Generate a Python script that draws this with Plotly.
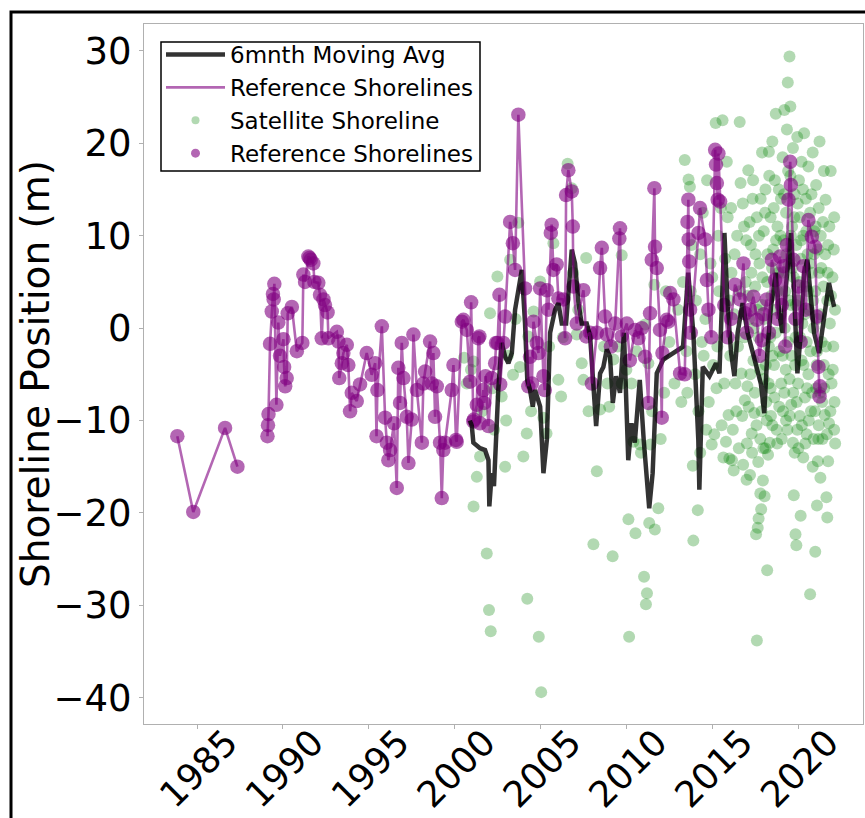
import plotly.graph_objects as go

# ---------------- data (decimal years, shoreline position in m) ----------------
ref_year = [
    1983.85, 1984.78, 1986.63, 1987.35, 1988.20,
    1989.10, 1989.13, 1989.16, 1989.25, 1989.35, 1989.42, 1989.46, 1989.50, 1989.62, 1989.73,
    1989.83, 1990.03, 1990.07, 1990.13, 1990.22, 1990.28, 1990.52, 1990.81, 1991.13, 1991.19,
    1991.29, 1991.48, 1991.55, 1991.62, 1991.77, 1991.83, 1992.06, 1992.16, 1992.26, 1992.36,
    1992.45, 1992.60, 1992.65, 1993.14, 1993.23, 1993.28, 1993.43, 1993.52, 1993.72, 1993.81,
    1993.91, 1994.01, 1994.30, 1994.49, 1994.88, 1995.17, 1995.37, 1995.45, 1995.50, 1995.76,
    1995.95, 1996.05, 1996.14, 1996.24, 1996.47, 1996.63, 1996.72, 1996.82, 1996.92, 1997.02,
    1997.21, 1997.31, 1997.50, 1997.60, 1997.80, 1998.09, 1998.18, 1998.28, 1998.57, 1998.67,
    1998.76, 1998.86, 1998.96, 1999.15, 1999.25, 1999.34, 1999.44, 1999.83, 1999.93, 2000.08,
    2000.12, 2000.42, 2000.51, 2000.71, 2000.90, 2000.96, 2001.09, 2001.12, 2001.29, 2001.38,
    2001.44, 2001.48, 2001.67, 2001.72, 2001.80, 2001.97, 2002.16, 2002.36, 2002.41, 2002.50,
    2002.61, 2002.65, 2002.84, 2002.94, 2003.23, 2003.39, 2003.52, 2003.71, 2004.10, 2004.29,
    2004.39, 2004.50, 2004.59, 2004.78, 2004.88, 2004.98, 2005.17, 2005.25, 2005.37, 2005.46,
    2005.60, 2005.65, 2005.75, 2005.94, 2006.04, 2006.33, 2006.43, 2006.49, 2006.62, 2006.82,
    2006.88, 2006.92, 2007.11, 2007.50, 2007.66, 2007.89, 2007.99, 2008.28, 2008.47, 2008.57,
    2008.76, 2008.86, 2009.10, 2009.35, 2009.59, 2009.63, 2009.73, 2010.03, 2010.20, 2010.51,
    2010.70, 2010.90, 2011.09, 2011.28, 2011.38, 2011.48, 2011.63, 2011.67, 2011.77, 2011.96,
    2012.06, 2012.10, 2012.35, 2012.44, 2012.55, 2012.74, 2013.13, 2013.40, 2013.56, 2013.61,
    2013.63, 2013.66, 2013.71, 2013.75, 2014.20, 2014.29, 2014.59, 2014.69, 2014.78, 2014.95,
    2015.17, 2015.22, 2015.27, 2015.32, 2015.36, 2015.46, 2015.70, 2015.90, 2016.10, 2016.33,
    2016.62, 2016.82, 2016.92, 2017.01, 2017.20, 2017.40, 2017.60, 2017.75, 2017.89, 2018.00,
    2018.18, 2018.30, 2018.47, 2018.66, 2018.80, 2018.95, 2019.05, 2019.15, 2019.25, 2019.35,
    2019.44, 2019.54, 2019.58, 2019.73, 2019.85, 2020.02, 2020.15, 2020.31, 2020.45, 2020.60,
    2020.80, 2020.99, 2021.09, 2021.19, 2021.25, 2021.28,
]
ref_pos = [
    -11.7, -19.9, -10.8, -15.0, None,
    -11.7, -10.5, -9.3, -1.7, 1.8, 3.7, 3.1, 4.8, -8.3, 0.6,
    -3.0, -1.2, -4.2, -6.3, -5.4, 1.6, 2.3, -2.5, -1.6, 5.8,
    5.0, 7.75, 7.6, 7.4, 7.0, 5.0, 4.9, 3.6, -1.1, 3.1,
    2.5, 1.7, -1.1, -0.4, -1.45, -5.4, -3.8, -2.7, -1.8, -4.0,
    -9.0, -7.0, -7.9, -6.1, -2.7, -5.05, -3.8, -11.7, -6.7, 0.2,
    -9.7, -12.4, -14.3, -13.2, -10.3, -17.3, -4.3, -8.1, -1.6, -5.4,
    -9.6, -14.6, -9.9, -0.7, -6.7, -12.4, -6.0, -4.7, -1.45, -6.0,
    -2.7, -9.6, -6.3, -12.4, -18.4, -13.2, -12.4, -6.7, -4.0, -12.1,
    -12.3, 0.7, 0.9, -0.2, -5.8, 2.8, -10.1, -9.9, -8.3, -1.1,
    -0.9, -10.3, -6.7, -8.1, -5.2, -10.6, -5.4, -3.8, -1.6, -1.6,
    3.6, -6.1, -1.6, 1.25, 11.5, 9.2, 6.3, 23.1, 4.3, -6.3,
    -3.1, -6.0, 0.7, -1.6, -2.7, 4.3, -5.2, -6.7, 4.1, 2.0,
    10.3, 11.2, 6.3, 6.9, 3.2, 3.1, -1.1, 14.4, 17.1, 14.8,
    11.0, 4.5, 0.5, 4.1, -0.9, -0.5, -6.0, -0.5, 6.5, 8.7,
    1.25, -0.7, -2.0, 0.5, 9.7, 10.8, -0.9, 0.5, -3.5, -0.2,
    -1.1, 0.0, -3.1, -8.1, 1.6, 7.4, 15.15, 8.8, 6.5, -0.2,
    -9.7, -2.7, 0.9, 0.7, 3.8, 3.1, -4.9, -5.0, 11.5, 13.9,
    9.6, 7.2, 2.0, -0.5, 10.3, 13.0, 9.6, 5.2, 2.0, -1.0,
    19.3, 17.7, 15.7, 13.9, 18.9, 13.7, 2.5, -1.0, 1.0, 4.7,
    3.1, 7.0, 1.6, -0.5, 2.0, 3.4, 0.9, -3.0, -1.3, 1.5,
    3.1, -0.5, 7.4, 5.2, 1.0, 7.75, 2.5, 6.7, -2.0, 9.0,
    13.9, 18.0, 15.5, 7.4, 1.0, 4.5, -1.5, 6.7, 2.0, 11.7,
    9.9, 8.8, 1.25, -4.2, -7.4, -6.3,
]

avg_year = [
    2000.90, 2001.00, 2001.09, 2001.48, 2001.77, 2001.97, 2002.02, 2002.16, 2002.29, 2002.54,
    2002.74, 2002.94, 2003.13, 2003.33, 2003.52, 2003.71, 2003.91, 2004.10, 2004.23, 2004.39,
    2004.55, 2004.68, 2004.98, 2005.17, 2005.37, 2005.56, 2005.85, 2006.04, 2006.24, 2006.49,
    2006.62, 2006.82, 2007.01, 2007.21, 2007.40, 2007.69, 2007.89, 2008.08, 2008.24, 2008.47,
    2008.66, 2008.86, 2009.05, 2009.21, 2009.40, 2009.63, 2009.86, 2010.11, 2010.30, 2010.49,
    2010.78, 2011.01, 2011.33, 2011.53, 2011.77, 2012.15, 2013.30, 2013.60, 2013.90, 2014.19,
    2014.25, 2014.45, 2014.84, 2015.22, 2015.42, 2015.71, 2015.90, 2016.10, 2016.29, 2016.48,
    2016.77, 2017.06, 2017.54, 2017.83, 2018.03, 2018.22, 2018.42, 2018.71, 2018.90, 2019.10,
    2019.29, 2019.58, 2019.77, 2019.96, 2020.16, 2020.35, 2020.54, 2020.73, 2020.93, 2021.22,
    2021.51, 2021.80, 2022.00, 2022.10,
]
avg_pos = [
    -10.0, -10.6, -12.4, -13.0, -13.2, -14.3, -19.3, -15.7, -17.1, -6.7,
    -1.6, -3.1, -3.8, -2.7, 2.0, 4.3, 6.3, 0.5, -5.6, -6.7,
    -8.5, -6.7, -8.5, -15.7, -12.1, -0.5, 2.0, 2.7, 0.5, 0.5,
    4.1, 8.5, 7.0, 2.7, 0.5, 0.5, -0.9, -6.0, -10.6, -4.9,
    -4.2, -2.3, -3.1, -8.1, -5.2, -7.0, -0.5, -14.3, -10.3, -12.4,
    -5.6, -12.1, -19.5, -15.7, -4.9, -3.4, -2.0, 6.0, -0.5, -12.1,
    -17.5, -4.2, -5.2, -3.8, -4.9, 10.3, 2.3, -2.7, -5.2, -0.5,
    2.7, -0.5, -4.2, -6.0, -9.2, -2.3, 2.3, 6.0, 1.6, -0.5,
    4.5, 10.3, 3.8, -4.9, -0.5, 6.0, 7.4, 3.1, -0.5, -2.7,
    1.25, 4.9, 3.1, 2.3,
]

sat_year = [
    2000.55, 2000.70, 2000.95, 2001.10, 2001.10, 2001.29, 2001.48, 2001.87, 2002.00, 2002.10,
    2002.06, 2002.20, 2002.49, 2002.74, 2002.94, 2003.10, 2003.23, 2003.40, 2003.71, 2003.80,
    2004.00, 2004.20, 2004.23, 2004.29, 2004.60, 2004.90, 2004.98, 2005.04, 2005.17, 2005.35,
    2005.75, 2006.04, 2006.20, 2006.58, 2006.82, 2007.11, 2007.40, 2007.50, 2007.66, 2008.08,
    2008.28, 2008.47, 2008.70, 2009.00, 2009.20, 2009.25, 2009.73, 2009.73, 2010.00, 2010.12,
    2010.16, 2010.41, 2010.53, 2010.80, 2010.85, 2011.03, 2011.14, 2011.20, 2011.09, 2011.28,
    2011.33, 2011.40, 2011.63, 2011.66, 2011.86, 2012.20, 2012.50, 2012.80, 2013.00, 2013.20,
    2013.40, 2013.50, 2013.62, 2013.70, 2013.75, 2013.87, 2013.90, 2014.00, 2014.16, 2014.30,
    2014.30, 2014.45, 2014.50, 2014.60, 2014.70, 2014.80, 2014.97, 2015.00, 2015.12, 2015.20,
    2015.25, 2015.35, 2015.50, 2015.55, 2015.60, 2015.65, 2015.75, 2015.80, 2015.85, 2015.95,
    2016.00, 2016.00, 2016.10, 2016.15, 2016.25, 2016.30, 2016.40, 2016.50, 2016.60, 2016.65,
    2016.70, 2016.80, 2016.85, 2016.90, 2016.95, 2017.00, 2017.05, 2017.10, 2017.15, 2017.20,
    2017.25, 2017.30, 2017.35, 2017.40, 2017.45, 2017.50, 2017.55, 2017.60, 2017.60, 2017.65,
    2017.70, 2017.70, 2017.75, 2017.80, 2017.80, 2017.85, 2017.90, 2017.90, 2017.95, 2018.00,
    2018.00, 2018.05, 2018.10, 2018.10, 2018.15, 2018.20, 2018.20, 2018.25, 2018.30, 2018.30,
    2018.35, 2018.40, 2018.40, 2018.45, 2018.50, 2018.50, 2018.55, 2018.60, 2018.65, 2018.70,
    2018.70, 2018.75, 2018.80, 2018.85, 2018.90, 2019.00, 2019.00, 2019.05, 2019.10, 2019.10,
    2019.15, 2019.20, 2019.20, 2019.25, 2019.30, 2019.30, 2019.35, 2019.40, 2019.40, 2019.45,
    2019.50, 2019.50, 2019.55, 2019.55, 2019.60, 2019.60, 2019.65, 2019.70, 2019.70, 2019.75,
    2019.75, 2019.80, 2019.80, 2019.85, 2019.85, 2019.90, 2019.90, 2019.95, 2019.95, 2020.00,
    2020.00, 2020.05, 2020.10, 2020.10, 2020.15, 2020.15, 2020.20, 2020.20, 2020.25, 2020.30,
    2020.30, 2020.35, 2020.40, 2020.40, 2020.45, 2020.50, 2020.50, 2020.55, 2020.60, 2020.60,
    2020.65, 2020.70, 2020.70, 2020.75, 2020.80, 2020.85, 2020.85, 2020.90, 2020.90, 2020.95,
    2021.00, 2021.00, 2021.05, 2021.05, 2021.10, 2021.10, 2021.15, 2021.15, 2021.20, 2021.20,
    2021.25, 2021.30, 2021.30, 2021.35, 2021.40, 2021.45, 2021.50, 2021.50, 2021.55, 2021.60,
    2021.65, 2021.70, 2021.70, 2021.75, 2021.75, 2021.80, 2021.85, 2021.90, 2021.95, 2022.00,
    2022.05, 2022.10, 2022.10, 2022.15,
]
sat_pos = [
    -3.2, -6.0, -4.5, -19.3, -3.6, -16.1, -13.9, -24.4, -30.5, -32.8,
    1.6, -6.5, 5.6, -7.4, -15.0, -3.0, 7.4, -5.05, 11.4, -4.2,
    -13.9, -11.4, -29.3, -0.9, 1.8, -33.4, 5.05, -39.4, -9.7, -11.4,
    9.2, -5.6, -7.4, 17.8, 15.15, -0.7, -3.8, -5.6, 7.6, -23.4,
    -15.5, -8.8, -2.0, -8.5, -24.7, -3.4, 7.9, -6.0, -4.5, -20.7,
    -33.4, -12.3, -22.2, -12.6, -13.5, -26.9, -29.9, -28.7, 0.4, -3.8,
    -21.1, -12.6, 4.7, -21.8, -19.5, -7.0, -1.5, -6.0, 2.0, -8.0,
    18.2, -2.5, 16.1, 15.3, 4.0, -14.9, -23.0, -5.0, -19.7, -13.5,
    8.0, 12.5, -3.0, 1.0, 16.0, -8.0, -12.6, 5.5, -11.5, 22.2,
    -6.5, 10.0, 13.0, -10.5, 22.5, -14.0, 7.5, -12.3, 18.0, -9.4,
    3.0, -14.1, 13.0, -14.3, -15.4, 8.0, -9.0, -2.0, 22.3, 15.7,
    -4.9, -14.8, 11.0, -7.8, 5.0, -16.4, -6.3, 17.1, 1.0, -15.9,
    9.0, -11.4, 14.0, -3.5, -9.2, 4.5, -22.3, -33.8, 12.0, -21.6,
    -1.0, -20.6, 7.0, -17.9, -12.0, -19.6, 19.0, 2.5, -16.5, -5.5,
    10.5, -18.2, -13.0, 15.0, -8.0, -26.2, 5.0, -13.7, 19.1, -2.0,
    -12.4, 12.0, -6.5, 3.5, 20.2, -10.5, 8.5, -4.0, 16.0, 23.2,
    -0.5, -11.0, 11.0, 6.0, -8.5, 14.0, 1.5, -12.0, 18.5, -3.0,
    9.5, -7.0, 23.6, 4.0, 12.5, -10.0, 21.5, 26.6, -1.5, 7.0,
    29.4, -5.5, 16.5, 24.0, 2.5, -8.3, 11.0, -12.4, 19.5, -18.1,
    5.5, -13.5, 14.5, -22.3, -1.0, -23.5, 9.0, -11.0, 20.7, 3.0,
    -6.0, 16.0, -9.5, 12.0, -20.3, 7.5, -3.5, 18.0, 0.5, -14.0,
    10.0, 21.1, -7.5, 4.5, 14.0, -11.5, -1.5, 8.0, 17.5, -5.0,
    2.0, -28.8, 12.5, -9.0, 6.0, -15.0, 19.0, 0.0, -12.0, 10.5,
    -24.2, 4.0, 15.5, -6.5, -19.2, -2.5, 8.5, -14.4, 13.0, -10.5,
    20.2, -16.2, 1.5, 6.5, -8.0, 11.5, -4.0, 17.0, -9.4, 13.9,
    -18.3, -20.5, 3.0, -14.4, 9.0, -10.3, 0.5, 17.0, -6.0, 5.5,
    -2.0, 12.0, -11.0, 2.0,
]

# additional satellite detections (dense recent period and mid-range values)
sat_year_b = [
    2001.60, 2002.30, 2003.00, 2003.55, 2004.45, 2005.50, 2006.30, 2006.90, 2007.20, 2007.80,
    2008.90, 2009.50, 2010.30, 2010.60, 2011.50, 2012.00, 2012.30, 2013.30, 2013.55, 2013.80,
    2014.05, 2014.20, 2014.40, 2014.65, 2014.90, 2015.05, 2015.30, 2015.40, 2015.70, 2015.90,
    2016.05, 2016.12, 2016.20, 2016.28, 2016.35, 2016.45, 2016.55, 2016.60, 2016.75, 2016.78,
    2016.88, 2016.98, 2017.02, 2017.08, 2017.12, 2017.18, 2017.22, 2017.28, 2017.32, 2017.38,
    2017.42, 2017.48, 2017.52, 2017.58, 2017.62, 2017.68, 2017.72, 2017.78, 2017.82, 2017.88,
    2017.92, 2017.98, 2018.02, 2018.08, 2018.12, 2018.18, 2018.22, 2018.28, 2018.32, 2018.38,
    2018.42, 2018.48, 2018.52, 2018.58, 2018.62, 2018.68, 2018.72, 2018.78, 2018.82, 2018.88,
    2018.92, 2018.97, 2019.02, 2019.08, 2019.12, 2019.18, 2019.22, 2019.28, 2019.32, 2019.38,
    2019.42, 2019.48, 2019.52, 2019.58, 2019.62, 2019.68, 2019.72, 2019.78, 2019.82, 2019.88,
    2019.92, 2019.98, 2020.02, 2020.08, 2020.12, 2020.18, 2020.22, 2020.28, 2020.32, 2020.38,
    2020.42, 2020.48, 2020.52, 2020.58, 2020.62, 2020.68, 2020.72, 2020.78, 2020.82, 2020.88,
    2020.92, 2020.98, 2021.02, 2021.08, 2021.12, 2021.18, 2021.22, 2021.28, 2021.32, 2021.38,
    2021.42, 2021.48, 2021.52, 2021.58, 2021.62, 2021.68, 2021.72, 2021.78, 2021.82, 2021.88,
    2021.92, 2022.02, 2022.08, 2022.12, 2022.16,
]
sat_pos_b = [
    -9.0, -11.0, -10.0, 1.0, -9.0, -2.0, -1.0, 6.0, 2.0, -9.0,
    -6.0, -2.0, -6.0, -2.5, -9.0, -12.0, 4.0, 5.0, -7.0, 9.0,
    3.0, -9.0, -1.5, -11.0, 7.0, -4.0, -2.0, 4.0, -6.0, 12.0,
    -3.0, 6.0, -11.0, 1.5, -6.0, 10.0, -13.0, 4.0, -9.5, 13.5,
    -1.0, 9.5, -12.5, 3.5, -8.5, 11.5, -5.0, 6.0, -13.5, 16.0,
    0.0, -7.0, 8.0, -10.5, 2.0, -14.5, 10.0, -4.5, 14.0, -9.0,
    5.5, -13.0, 1.0, 12.5, -4.0, -10.0, 8.0, -6.0, 16.5, -1.0,
    -9.5, 6.5, -3.0, 13.0, -7.5, 2.0, 9.5, -12.5, 4.0, 15.0,
    -2.5, 10.0, -6.0, 6.0, -9.0, 14.5, 0.0, -4.5, 8.0, -11.0,
    17.0, 3.0, -9.5, 10.0, -3.0, 6.5, -7.0, 12.0, -4.0, 2.5,
    -8.0, 13.5, -13.0, 5.0, -1.0, 9.5, -10.5, 15.0, -4.0, 1.5,
    -12.5, 10.5, -6.5, 4.0, -10.0, 7.0, -2.5, 14.5, -7.0, 3.0,
    8.0, -9.0, 11.0, -4.0, 1.0, -12.0, 6.0, -7.0, 10.0, -1.5,
    -12.0, 4.5, -6.5, 8.0, -2.0, -11.5, 6.0, -5.0, 11.0, -9.0,
    3.5, -4.5, 8.5, -8.0, -12.5,
]

x_ticks = [1985, 1990, 1995, 2000, 2005, 2010, 2015, 2020]
x_tick_labels = ["1985", "1990", "1995", "2000", "2005", "2010", "2015", "2020"]
y_ticks = [-40, -30, -20, -10, 0, 10, 20, 30]
y_tick_labels = ["\u221240", "\u221230", "\u221220", "\u221210", "0", "10", "20", "30"]
y_title = "Shoreline Position (m)"

FONT = "DejaVu Sans"
GREEN = "rgba(0,128,0,0.3)"
PURPLE = "rgba(128,0,128,0.6)"

fig = go.Figure()

# scatter collections (drawn below lines, like matplotlib zorder)
fig.add_trace(go.Scatter(
    x=sat_year + sat_year_b, y=sat_pos + sat_pos_b, mode="markers", name="Satellite Shoreline",
    marker=dict(size=12, color=GREEN, line=dict(width=0)), showlegend=False,
))
fig.add_trace(go.Scatter(
    x=ref_year, y=ref_pos, mode="markers", name="Reference Shorelines",
    marker=dict(size=14.5, color=PURPLE, line=dict(width=0)), showlegend=False,
))
fig.add_trace(go.Scatter(
    x=avg_year, y=avg_pos, mode="lines", name="6mnth Moving Avg",
    line=dict(color="rgba(0,0,0,0.8)", width=4.5), legendrank=1,
))
fig.add_trace(go.Scatter(
    x=ref_year, y=ref_pos, mode="lines", name="Reference Shorelines",
    line=dict(color=PURPLE, width=2.6), connectgaps=False, legendrank=2,
))
# legend entries for the two scatter collections (smaller legend symbols, as in the original)
fig.add_trace(go.Scatter(
    x=[None], y=[None], mode="markers", name="Satellite Shoreline",
    marker=dict(size=8, color=GREEN), legendrank=3, hoverinfo="skip",
))
fig.add_trace(go.Scatter(
    x=[None], y=[None], mode="markers", name="Reference Shorelines",
    marker=dict(size=9, color=PURPLE), legendrank=4, hoverinfo="skip",
))

L, R, T, B = 144, 2, 24, 94
W, H = 865, 818
pw, ph = W - L - R, H - T - B

def px_x(p):
    return (p - L) / pw

def px_y(p):
    return (H - B - p) / ph

fig.update_layout(
    width=W, height=H,
    margin=dict(l=L, r=R, t=T, b=B, pad=0, autoexpand=False),
    paper_bgcolor="white", plot_bgcolor="white",
    font=dict(family=FONT, color="black"),
    showlegend=True,
    legend=dict(
        x=px_x(161), y=px_y(33), xanchor="left", yanchor="top",
        bgcolor="rgba(0,0,0,0)", borderwidth=0,
        font=dict(size=23, family=FONT, color="black"),
        itemwidth=59, tracegroupgap=0,
    ),
    xaxis=dict(
        range=[1981.91, 2023.78], tickmode="array", tickvals=x_ticks, ticktext=x_tick_labels,
        tickangle=-45, tickfont=dict(size=36, family=FONT, color="black"),
        showgrid=False, zeroline=False, showline=True, linecolor="#b0b0b0", linewidth=1,
        mirror=True, ticks="outside", ticklen=4, tickcolor="#b0b0b0",
        ticklabelshift=30, ticklabelstandoff=-22, automargin=False,
    ),
    yaxis=dict(
        range=[-42.85, 32.92], tickmode="array", tickvals=y_ticks, ticktext=y_tick_labels,
        tickfont=dict(size=37, family=FONT, color="black"),
        showgrid=False, zeroline=False, showline=True, linecolor="#b0b0b0", linewidth=1,
        mirror=True, ticks="outside", ticklen=4, tickcolor="#b0b0b0", automargin=False,
    ),
    annotations=[dict(
        text=y_title, xref="paper", yref="paper", x=px_x(35), y=0.5,
        xanchor="center", yanchor="middle", textangle=-90, showarrow=False,
        font=dict(size=39, family=FONT, color="black"),
    )],
    shapes=[
        # legend frame
        dict(type="rect", xref="paper", yref="paper",
             x0=px_x(161), x1=px_x(480), y0=px_y(171), y1=px_y(42),
             line=dict(color="black", width=1.5), fillcolor="rgba(255,255,255,0.8)", layer="above"),
        # outer figure frame
        dict(type="rect", xref="paper", yref="paper",
             x0=px_x(11), x1=px_x(1000), y0=px_y(1000), y1=px_y(12),
             line=dict(color="black", width=3), fillcolor="rgba(0,0,0,0)", layer="above"),
    ],
)

fig.write_html("out.html")
